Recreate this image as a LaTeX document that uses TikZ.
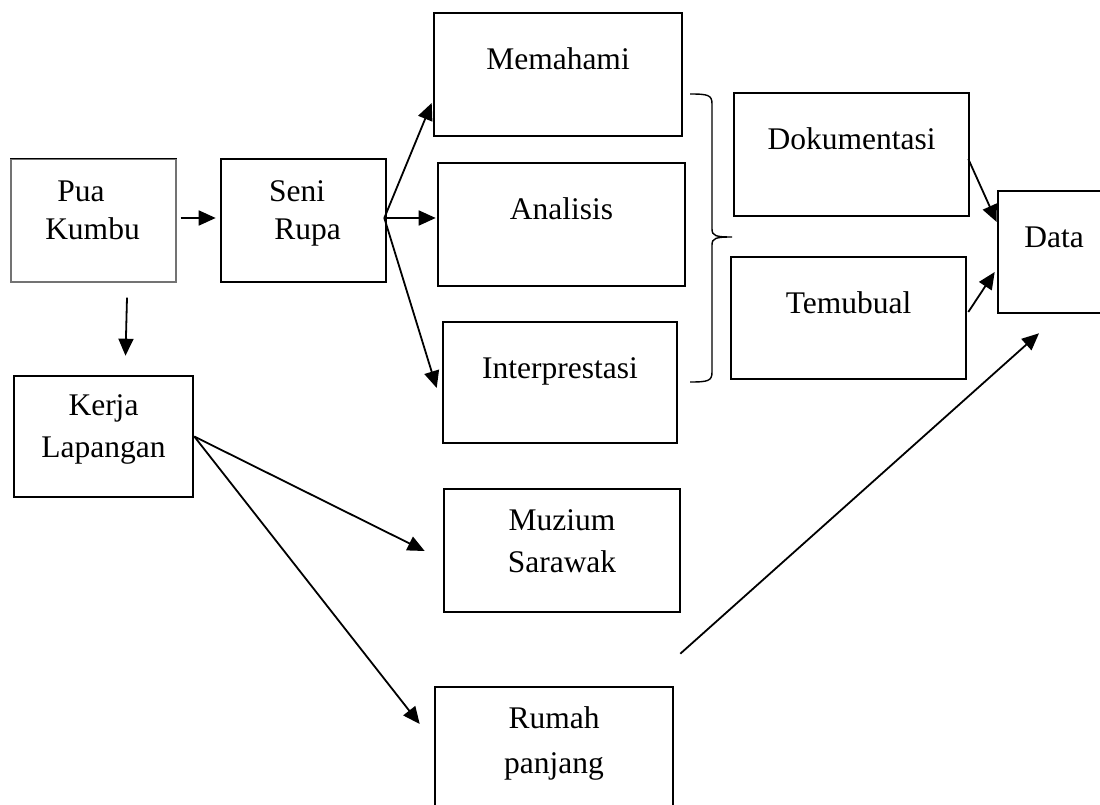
\documentclass[tikz,border=0pt]{standalone}
\usepackage{fontspec}
\setmainfont{Liberation Serif}
\usetikzlibrary{arrows.meta,calc}
\tikzset{
  box/.style={draw=black, line width=2.6pt, rectangle, inner sep=0pt},
  thinbox/.style={draw=black!55, line width=1.2pt, rectangle, inner sep=0pt},
  txt/.style={inner sep=0pt, anchor=base, font=\fontsize{31.5}{40}\selectfont},
  conn/.style={line width=1.8pt, -{Triangle[length=17pt,width=15pt]}},
  bracestyle/.style={line width=1.4pt}
}
\begin{document}
\begin{tikzpicture}[x=1pt,y=-1pt]
\useasboundingbox (0,0) rectangle (1100,805);
% boxes
\node[thinbox, minimum width=165pt, minimum height=123pt] (pua) at (93.5,220.5) {};
\draw[line width=1.2pt, black] (pua.north west) -- (pua.north east);
\node[box, minimum width=165pt, minimum height=123pt] (seni) at (303.5,220.5) {};
\node[box, minimum width=248pt, minimum height=123pt] (mem) at (558,74.5) {};
\node[box, minimum width=247pt, minimum height=123pt] (ana) at (561.5,224.5) {};
\node[box, minimum width=234pt, minimum height=121pt] (int) at (560,382.5) {};
\node[box, minimum width=235pt, minimum height=123pt] (dok) at (851.5,154.5) {};
\node[box, minimum width=235pt, minimum height=122pt] (tem) at (848.5,318) {};
\node[box, minimum width=112pt, minimum height=122pt] (data) at (1054,252) {};
\node[box, minimum width=179pt, minimum height=121pt] (kerja) at (103.5,436.5) {};
\node[box, minimum width=236pt, minimum height=123pt] (muz) at (562,550.5) {};
\node[box, minimum width=238pt, minimum height=123pt] (rum) at (554,748.5) {};
% texts
\node[txt] (t-pua1) at (81,201) {Pua};
\node[txt] (t-pua2) at (92.5,240) {Kumbu};
\node[txt] (t-seni1) at (297,201) {Seni};
\node[txt] (t-seni2) at (307.5,240) {Rupa};
\node[txt] (t-mem) at ($(mem.center)+(0,-4.5)$) {Memahami};
\node[txt] (t-ana) at ($(ana.center)+(0,-4.5)$) {Analisis};
\node[txt] (t-int) at ($(int.center)+(0,-4.5)$) {Interprestasi};
\node[txt] (t-dok) at ($(dok.center)+(0,-4.5)$) {Dokumentasi};
\node[txt] (t-tem) at ($(tem.center)+(0,-4.5)$) {Temubual};
\node[txt] (t-data) at ($(data.center)+(0,-4.5)$) {Data};
\node[txt] (t-ker1) at ($(kerja.center)+(0,-21)$) {Kerja};
\node[txt] (t-ker2) at ($(kerja.center)+(0,21)$) {Lapangan};
\node[txt] (t-muz1) at ($(muz.center)+(0,-20.5)$) {Muzium};
\node[txt] (t-muz2) at ($(muz.center)+(0,21.5)$) {Sarawak};
\node[txt] (t-rum1) at ($(rum.center)+(0,-20.5)$) {Rumah};
\node[txt] (t-rum2) at ($(rum.center)+(0,24.5)$) {panjang};
% fan origins
\coordinate (sfan) at ($(seni.east)+(-3,-2.5)$);
\coordinate (kfan) at (kerja.east);
% connectors
\draw[conn] ($(pua.east)+(4,-2.5)$) -- ($(seni.west)+(-4,-2.5)$);
\draw[conn] ($(pua.south)+(33.5,15)$) -- ($(kerja.north)+(22,-19)$);
\draw[conn] (sfan) -- ($(mem.west)+(-1,28.5)$);
\draw[conn] (sfan) -- ($(ana.west)+(-1,-6.5)$);
\draw[conn] (sfan) -- ($(int.west)+(-5,5.5)$);
\draw[conn] ($(dok.east)+(-2,4.5)$) -- ($(data.west)+(0,-30)$);
\draw[conn] ($(tem.east)+(1,-6)$) -- ($(data.west)+(-2,20)$);
\draw[conn] ($(rum.north east)+(6,-32)$) -- ($(data.south)+(-15,19)$);
\draw[conn] (kfan) -- ($(muz.west)+(-18,0.5)$);
\draw[conn] (kfan) -- ($(rum.west)+(-14,-24.5)$);
% brace
\draw[bracestyle] (690,94) .. controls (708,94) and (712,95) .. (712,104)
  -- (712,229) .. controls (712,236) and (716,237) .. (732,237)
  .. controls (716,237) and (712,238) .. (712,245)
  -- (712,372) .. controls (712,381) and (708,382) .. (690,382);
\end{tikzpicture}
\end{document}
